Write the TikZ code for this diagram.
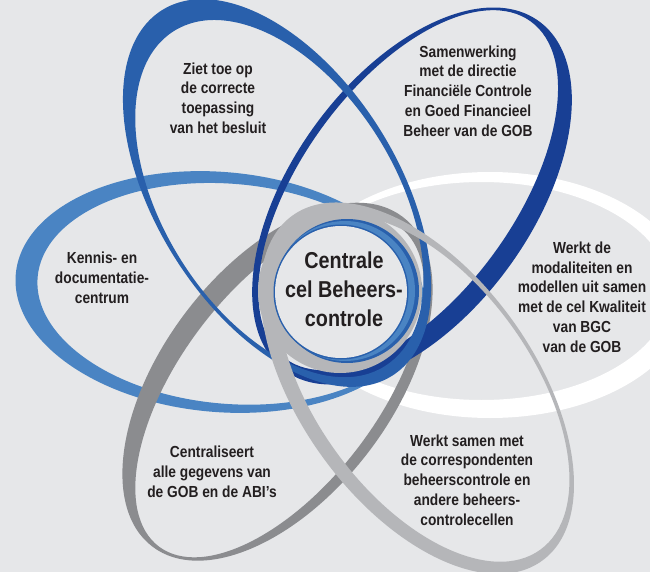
\documentclass[tikz,border=0pt]{standalone}
\usepackage{fontspec}
\setmainfont{Liberation Sans}[FakeStretch=0.86]
\definecolor{bgc}{RGB}{230,231,233}
\definecolor{colA}{RGB}{41,96,172}
\definecolor{colB}{RGB}{24,63,148}
\definecolor{colC}{RGB}{74,132,195}
\definecolor{colD}{RGB}{255,255,255}
\definecolor{colE}{RGB}{139,140,143}
\definecolor{colF}{RGB}{181,182,185}
\definecolor{txt}{RGB}{35,31,32}
\tikzset{
  band/.style={even odd rule},
  lbl/.style={align=center, text=txt, font=\fontsize{16}{19.8}\selectfont\bfseries, inner sep=0pt},
  ctr/.style={align=center, text=txt, font=\fontsize{23}{29}\selectfont\bfseries, inner sep=0pt}
}
\begin{document}
\begin{tikzpicture}[x=1pt,y=-1pt]
\fill[bgc] (0,0) rectangle (650,572);
\useasboundingbox (0,0) rectangle (650,572);
% D white
\begin{scope}[shift={(490,295)}, rotate=0]
\fill[colD, band] (0,0) ellipse [x radius=200, y radius=123] (-8.5,-4) ellipse [x radius=188.5, y radius=109];
\end{scope}
% C steel blue
\begin{scope}[shift={(220,292)}, rotate=-5]
\fill[colC, band] (0,0) ellipse [x radius=205, y radius=120] (9.5,1) ellipse [x radius=192.5, y radius=110];
\end{scope}
% E dark gray
\begin{scope}[shift={(277.5,381.7)}, rotate=52.8]
\fill[colE, band] (0,0) ellipse [x radius=207, y radius=115] (-3,5) ellipse [x radius=200, y radius=99];
\end{scope}
% B dark blue
\begin{scope}[shift={(412,196)}, rotate=54]
\fill[colB, band] (0,0) ellipse [x radius=216, y radius=120] (2.5,-6.5) ellipse [x radius=208.5, y radius=106.5];
\end{scope}
% A medium blue
\begin{scope}[shift={(277,193)}, rotate=-57.8]
\fill[colA, band] (0,0) ellipse [x radius=216, y radius=121] (6,1) ellipse [x radius=198, y radius=116];
\end{scope}
% F light gray
\begin{scope}[shift={(417.2,388.2)}, rotate=-54.1]
\fill[colF, band] (0,0) ellipse [x radius=213, y radius=117] (4,-5) ellipse [x radius=199, y radius=108];
\end{scope}
% central ring
\fill[colF] (340,291) circle [radius=82];
\fill[colA] (347,291) circle [radius=72];
\fill[colC] (345,291) circle [radius=70];
\fill[colA] (341,292) circle [radius=67.5];
\fill[bgc] (341,292) circle [radius=66];
% texts
\node[ctr] (c) at (344,289) {Centrale\\cel Beheers-\\controle};
\node[lbl] (ta) at (218,98) {Ziet toe op\\de correcte\\toepassing\\van het besluit};
\node[lbl] (tb) at (468,91) {Samenwerking\\met de directie\\Financiële Controle\\en Goed Financieel\\Beheer van de GOB};
\node[lbl] (tc) at (102,278) {Kennis- en\\documentatie-\\centrum};
\node[lbl] (td) at (582,297) {Werkt de\\modaliteiten en\\modellen uit samen\\met de cel Kwaliteit\\van BGC\\van de GOB};
\node[lbl] (te) at (212,472) {Centraliseert\\alle gegevens van\\de GOB en de ABI’s};
\node[lbl] (tf) at (467,480) {Werkt samen met\\de correspondenten\\beheerscontrole en\\andere beheers-\\controlecellen};
\end{tikzpicture}
\end{document}
